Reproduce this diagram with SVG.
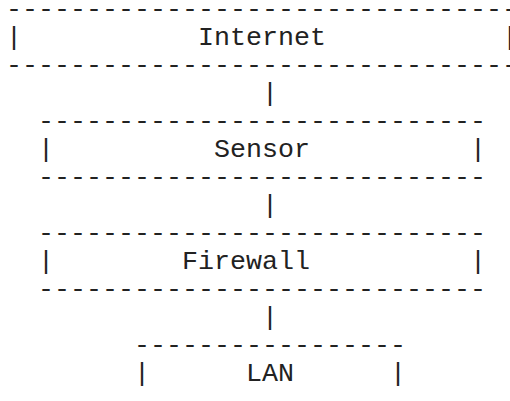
<svg xmlns="http://www.w3.org/2000/svg" width="510" height="401" viewBox="0 0 510 401">
<style>
text{font-family:"Liberation Mono","Courier New",monospace;font-size:26.667px;fill:#222}
</style>
<rect width="510" height="401" fill="#fff"/>
<g id="internet">
<text x="6" y="17">--------------------------------</text>
<text x="6" y="45">|</text>
<text x="198" y="45">Internet</text>
<text x="502" y="45">|</text>
<text x="6" y="73">--------------------------------</text>
</g>
<g id="sensor">
<text x="38" y="129">----------------------------</text>
<text x="38" y="157">|</text>
<text x="214" y="157">Sensor</text>
<text x="470" y="157">|</text>
<text x="38" y="185">----------------------------</text>
</g>
<g id="firewall">
<text x="38" y="241">----------------------------</text>
<text x="38" y="269">|</text>
<text x="182" y="269">Firewall</text>
<text x="470" y="269">|</text>
<text x="38" y="297">----------------------------</text>
</g>
<g id="lan">
<text x="134" y="353">-----------------</text>
<text x="134" y="381">|</text>
<text x="246" y="381">LAN</text>
<text x="390" y="381">|</text>
</g>
<g id="connectors">
<text x="262" y="101">|</text>
<text x="262" y="213">|</text>
<text x="262" y="325">|</text>
</g>
</svg>
